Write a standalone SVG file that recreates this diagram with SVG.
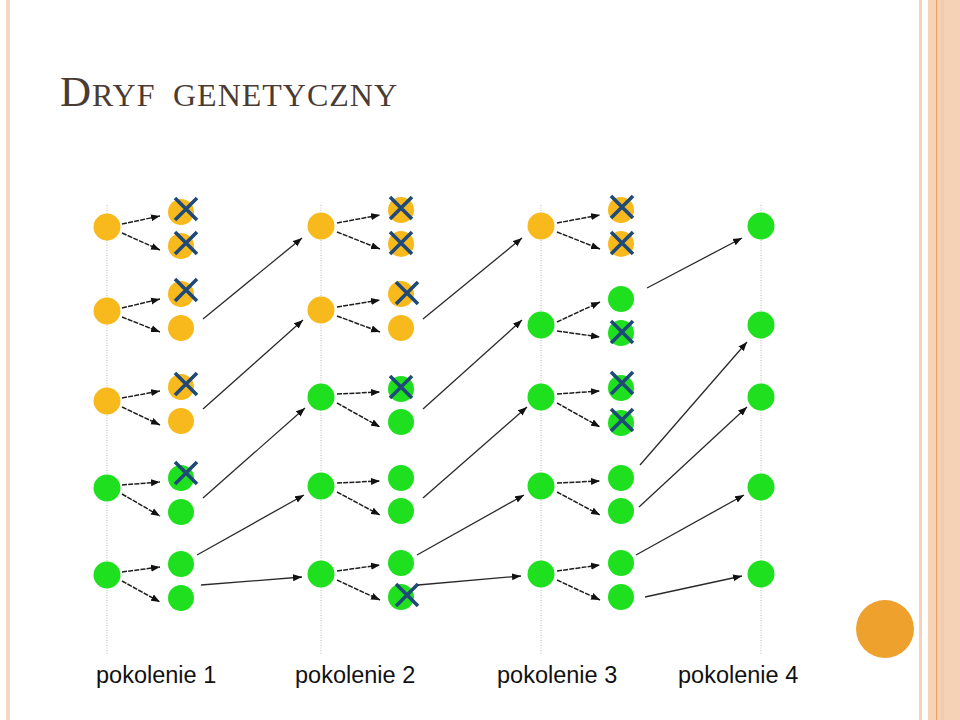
<svg xmlns="http://www.w3.org/2000/svg" xmlns:xlink="http://www.w3.org/1999/xlink" width="960" height="720" viewBox="0 0 960 720">
<style>
.o{fill:#F8B91D}
.g{fill:#1EE01E}
.axis{stroke:#B8B8B8;stroke-width:1;stroke-dasharray:1 1.5;fill:none}
.short{stroke:#1E1E1E;stroke-width:1.5;stroke-dasharray:5 1.2;fill:none;marker-end:url(#ah)}
.long{stroke:#2A2A2A;stroke-width:1.3;fill:none;marker-end:url(#ah)}
.x{stroke:#1F4A78;stroke-width:3.6;fill:none}
.lbl{font-family:"Liberation Sans",Arial,sans-serif;font-size:23.5px;fill:#111}
.title{font-family:"Liberation Serif","Times New Roman",serif;fill:#4A3B33}
</style>
<defs>
<marker id="ah" markerUnits="userSpaceOnUse" markerWidth="10" markerHeight="8" refX="9" refY="4" orient="auto">
<path d="M0,0.5 L9,4 L0,7.5 z" fill="#111"/>
</marker>
<path id="xm" class="x" d="M-11,-11 L11,11 M11,-11 L-11,11"/>
</defs>
<rect width="960" height="720" fill="#fff"/>
<!-- borders -->
<rect x="6" y="0" width="4" height="720" fill="#F5D6C2"/>
<rect x="919" y="0" width="3" height="720" fill="#F5D3B8"/>
<rect x="928" y="0" width="8" height="720" fill="#F6D3B5"/>
<rect x="936" y="0" width="1.5" height="720" fill="#E9A060"/>
<rect x="937.5" y="0" width="22.5" height="720" fill="#F5D2B5"/>
<rect x="941" y="0" width="3" height="720" fill="#F2CAA8"/>
<!-- title -->
<text class="title" x="60" y="106"><tspan font-size="43">D</tspan><tspan x="92" font-size="32" letter-spacing="1">RYF</tspan><tspan x="173" font-size="32" letter-spacing="1">GENETYCZNY</tspan></text>
<!-- axes -->
<g id="axes">
<line class="axis" x1="107" y1="205" x2="107" y2="655"/>
<line class="axis" x1="321" y1="205" x2="321" y2="655"/>
<line class="axis" x1="541" y1="205" x2="541" y2="655"/>
<line class="axis" x1="761" y1="205" x2="761" y2="655"/>
</g>
<!-- generation 1 -->
<g id="g1p1"><circle class="o" cx="107" cy="227" r="13.5"/></g>
<g id="g1p2"><circle class="o" cx="107" cy="311" r="13.5"/></g>
<g id="g1p3"><circle class="o" cx="107" cy="401" r="13.5"/></g>
<g id="g1p4"><circle class="g" cx="107" cy="488" r="13.5"/></g>
<g id="g1p5"><circle class="g" cx="107" cy="575" r="13.5"/></g>
<g id="g1c1"><circle class="o" cx="181" cy="212" r="13"/><use xlink:href="#xm" x="186" y="209"/></g>
<g id="g1c2"><circle class="o" cx="181" cy="246" r="13"/><use xlink:href="#xm" x="186" y="243"/></g>
<g id="g1c3"><circle class="o" cx="181" cy="294" r="13"/><use xlink:href="#xm" x="186" y="290"/></g>
<g id="g1c4"><circle class="o" cx="181" cy="328" r="13"/></g>
<g id="g1c5"><circle class="o" cx="181" cy="387" r="13"/><use xlink:href="#xm" x="186" y="384"/></g>
<g id="g1c6"><circle class="o" cx="181" cy="421" r="13"/></g>
<g id="g1c7"><circle class="g" cx="181" cy="478" r="13"/><use xlink:href="#xm" x="186" y="473"/></g>
<g id="g1c8"><circle class="g" cx="181" cy="512" r="13"/></g>
<g id="g1c9"><circle class="g" cx="181" cy="564" r="13"/></g>
<g id="g1c10"><circle class="g" cx="181" cy="598" r="13"/></g>
<!-- generation 2 -->
<g id="g2p1"><circle class="o" cx="321" cy="226" r="13.5"/></g>
<g id="g2p2"><circle class="o" cx="321" cy="310" r="13.5"/></g>
<g id="g2p3"><circle class="g" cx="321" cy="397" r="13.5"/></g>
<g id="g2p4"><circle class="g" cx="321" cy="486" r="13.5"/></g>
<g id="g2p5"><circle class="g" cx="321" cy="574" r="13.5"/></g>
<g id="g2c1"><circle class="o" cx="401" cy="210" r="13"/><use xlink:href="#xm" x="401" y="208"/></g>
<g id="g2c2"><circle class="o" cx="401" cy="244" r="13"/><use xlink:href="#xm" x="401" y="243"/></g>
<g id="g2c3"><circle class="o" cx="401" cy="294" r="13"/><use xlink:href="#xm" x="407" y="293"/></g>
<g id="g2c4"><circle class="o" cx="401" cy="328" r="13"/></g>
<g id="g2c5"><circle class="g" cx="401" cy="389" r="13"/><use xlink:href="#xm" x="401" y="387"/></g>
<g id="g2c6"><circle class="g" cx="401" cy="422" r="13"/></g>
<g id="g2c7"><circle class="g" cx="401" cy="478" r="13"/></g>
<g id="g2c8"><circle class="g" cx="401" cy="511" r="13"/></g>
<g id="g2c9"><circle class="g" cx="401" cy="563" r="13"/></g>
<g id="g2c10"><circle class="g" cx="401" cy="597" r="13"/><use xlink:href="#xm" x="407" y="595"/></g>
<!-- generation 3 -->
<g id="g3p1"><circle class="o" cx="541" cy="226" r="13.5"/></g>
<g id="g3p2"><circle class="g" cx="541" cy="325" r="13.5"/></g>
<g id="g3p3"><circle class="g" cx="541" cy="397" r="13.5"/></g>
<g id="g3p4"><circle class="g" cx="541" cy="486" r="13.5"/></g>
<g id="g3p5"><circle class="g" cx="541" cy="574" r="13.5"/></g>
<g id="g3c1"><circle class="o" cx="621" cy="210" r="13"/><use xlink:href="#xm" x="622" y="207"/></g>
<g id="g3c2"><circle class="o" cx="621" cy="244" r="13"/><use xlink:href="#xm" x="622" y="243"/></g>
<g id="g3c3"><circle class="g" cx="621" cy="299" r="13"/></g>
<g id="g3c4"><circle class="g" cx="621" cy="333" r="13"/><use xlink:href="#xm" x="622" y="332"/></g>
<g id="g3c5"><circle class="g" cx="621" cy="388" r="13"/><use xlink:href="#xm" x="622" y="383"/></g>
<g id="g3c6"><circle class="g" cx="621" cy="423" r="13"/><use xlink:href="#xm" x="622" y="420"/></g>
<g id="g3c7"><circle class="g" cx="621" cy="478" r="13"/></g>
<g id="g3c8"><circle class="g" cx="621" cy="511" r="13"/></g>
<g id="g3c9"><circle class="g" cx="621" cy="563" r="13"/></g>
<g id="g3c10"><circle class="g" cx="621" cy="597" r="13"/></g>
<!-- generation 4 -->
<g id="g4p1"><circle class="g" cx="761" cy="226" r="13.5"/></g>
<g id="g4p2"><circle class="g" cx="761" cy="325" r="13.5"/></g>
<g id="g4p3"><circle class="g" cx="761" cy="397" r="13.5"/></g>
<g id="g4p4"><circle class="g" cx="761" cy="487" r="13.5"/></g>
<g id="g4p5"><circle class="g" cx="761" cy="574" r="13.5"/></g>
<!-- connectors -->
<g id="connectors">
<line class="short" x1="122" y1="224" x2="160" y2="216"/>
<line class="short" x1="122" y1="233" x2="160" y2="250"/>
<line class="short" x1="122" y1="308" x2="160" y2="299"/>
<line class="short" x1="122" y1="317" x2="160" y2="332"/>
<line class="short" x1="122" y1="398" x2="160" y2="391"/>
<line class="short" x1="122" y1="407" x2="160" y2="425"/>
<line class="short" x1="122" y1="485" x2="160" y2="482"/>
<line class="short" x1="122" y1="494" x2="160" y2="516"/>
<line class="short" x1="122" y1="572" x2="160" y2="567"/>
<line class="short" x1="122" y1="581" x2="160" y2="602"/>
<line class="long" x1="203" y1="319" x2="302" y2="238"/>
<line class="long" x1="203" y1="409" x2="303" y2="320"/>
<line class="long" x1="203" y1="498" x2="305" y2="408"/>
<line class="long" x1="197" y1="555" x2="304" y2="495"/>
<line class="long" x1="201" y1="585" x2="302" y2="577"/>
<line class="short" x1="337" y1="223" x2="380" y2="215"/>
<line class="short" x1="337" y1="232" x2="380" y2="249"/>
<line class="short" x1="337" y1="307" x2="380" y2="300"/>
<line class="short" x1="337" y1="316" x2="380" y2="332"/>
<line class="short" x1="337" y1="394" x2="380" y2="392"/>
<line class="short" x1="337" y1="403" x2="380" y2="427"/>
<line class="short" x1="337" y1="483" x2="380" y2="481"/>
<line class="short" x1="337" y1="492" x2="380" y2="515"/>
<line class="short" x1="337" y1="571" x2="380" y2="565"/>
<line class="short" x1="337" y1="580" x2="380" y2="600"/>
<line class="long" x1="423" y1="319" x2="522" y2="238"/>
<line class="long" x1="423" y1="409" x2="522" y2="320"/>
<line class="long" x1="423" y1="498" x2="527" y2="407"/>
<line class="long" x1="417" y1="555" x2="524" y2="495"/>
<line class="long" x1="418" y1="585" x2="521" y2="576"/>
<line class="short" x1="557" y1="223" x2="600" y2="215"/>
<line class="short" x1="557" y1="232" x2="600" y2="249"/>
<line class="short" x1="557" y1="322" x2="600" y2="302"/>
<line class="short" x1="557" y1="331" x2="600" y2="337"/>
<line class="short" x1="557" y1="394" x2="600" y2="391"/>
<line class="short" x1="557" y1="403" x2="600" y2="427"/>
<line class="short" x1="557" y1="483" x2="600" y2="481"/>
<line class="short" x1="557" y1="492" x2="600" y2="515"/>
<line class="short" x1="557" y1="571" x2="600" y2="565"/>
<line class="short" x1="557" y1="580" x2="600" y2="600"/>
<line class="long" x1="647" y1="288" x2="742" y2="238"/>
<line class="long" x1="640" y1="465" x2="747" y2="342"/>
<line class="long" x1="639" y1="507" x2="747" y2="407"/>
<line class="long" x1="636" y1="555" x2="744" y2="495"/>
<line class="long" x1="645" y1="597" x2="742" y2="576"/>
</g>
<!-- labels -->
<text class="lbl" x="96" y="683">pokolenie 1</text>
<text class="lbl" x="295" y="683">pokolenie 2</text>
<text class="lbl" x="497" y="683">pokolenie 3</text>
<text class="lbl" x="678" y="683">pokolenie 4</text>
<!-- decorative circle -->
<circle cx="885" cy="629" r="29" fill="#EFA12E"/>
</svg>
